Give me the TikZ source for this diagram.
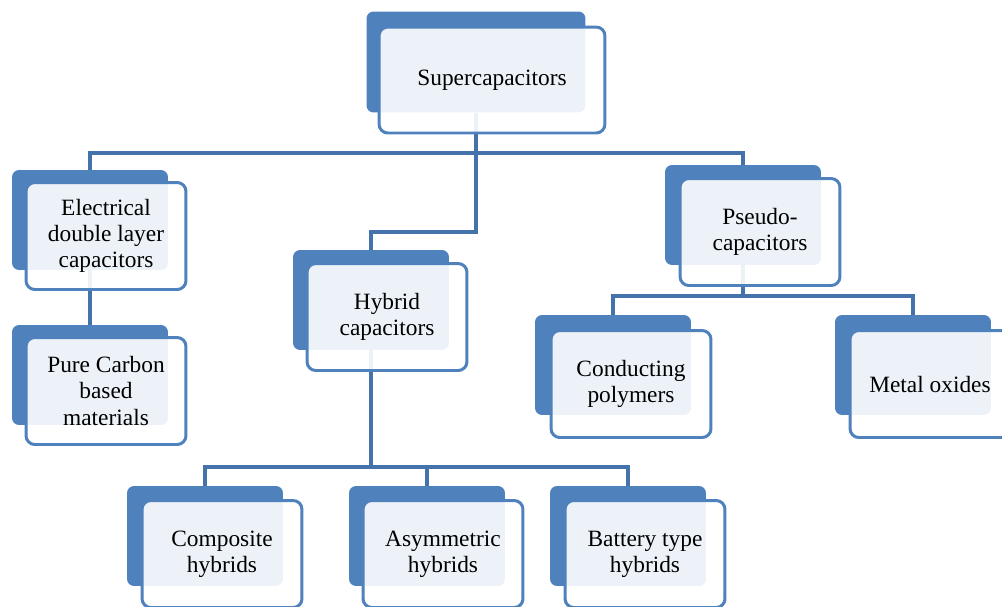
\documentclass[tikz,border=0pt]{standalone}
\usepackage{fontspec}
\setmainfont{Liberation Serif}
\usetikzlibrary{backgrounds}
\definecolor{boxblue}{HTML}{4F81BD}
\definecolor{linkblue}{HTML}{4472AA}
\begin{document}
\begin{tikzpicture}
[x=0.02cm,y=-0.02cm,
backbox/.style={rectangle,rounded corners=4pt,fill=boxblue,inner sep=0pt,minimum width=3.12cm,minimum height=2cm},
frontbox/.style={rectangle,rounded corners=5pt,draw=boxblue,line width=1.7pt,fill=white,fill opacity=0.9,text opacity=1,inner sep=0pt,minimum width=3.2cm,minimum height=2.14cm,align=center,font=\fontsize{13.3}{14.8}\selectfont},
link/.style={draw=linkblue,line width=2.2pt}]
\useasboundingbox (0,0) rectangle (1002,606);
\clip (0,0) rectangle (1002,606);

\node (sup-b) at (476,62) [backbox,minimum width=4.38cm,minimum height=2.02cm] {};
\node (sup) at (492,80) [frontbox,minimum width=4.52cm,minimum height=2.12cm] {Supercapacitors};

\node (edl-b) at (90,220) [backbox] {};
\node (edl) at (106,236) [frontbox] {Electrical\\double layer\\capacitors};
\node (pure-b) at (90,375) [backbox] {};
\node (pure) at (106,391) [frontbox] {Pure Carbon\\based\\materials};

\node (hyb-b) at (371,300) [backbox] {};
\node (hyb) at (387,317) [frontbox] {Hybrid\\capacitors};
\node (comp-b) at (205,536) [backbox] {};
\node (comp) at (222,554) [frontbox] {Composite\\hybrids};
\node (asym-b) at (427,536) [backbox] {};
\node (asym) at (443,554) [frontbox] {Asymmetric\\hybrids};
\node (batt-b) at (628,536) [backbox] {};
\node (batt) at (645,554) [frontbox] {Battery type\\hybrids};

\node (pse-b) at (743,215) [backbox] {};
\node (pse) at (760,232) [frontbox] {Pseudo-\\capacitors};
\node (cond-b) at (613,365) [backbox] {};
\node (cond) at (631,384) [frontbox] {Conducting\\polymers};
\node (metal-b) at (913,365) [backbox] {};
\node (metal) at (930,384) [frontbox] {Metal oxides};

\coordinate (top) at (476,153);
\coordinate (mid) at (476,232);
\coordinate (hybus) at (371,467);
\coordinate (psbus) at (743,296);

\begin{scope}[on background layer]
\draw [link] (sup-b) -- (top);
\draw [link] (edl-b.north) |- (top) -| (pse-b.north);
\draw [link] (top) -- (mid) -| (hyb-b.north);
\draw [link] (edl-b) -- (pure-b);
\draw [link] (hyb-b) -- (hybus);
\foreach \to in {comp-b, asym-b, batt-b}
	\draw [link] (hybus) -| (\to.north);
\draw [link] (pse-b) -- (psbus);
\foreach \to in {cond-b, metal-b}
	\draw [link] (psbus) -| (\to.north);
\end{scope}

\end{tikzpicture}
\end{document}
